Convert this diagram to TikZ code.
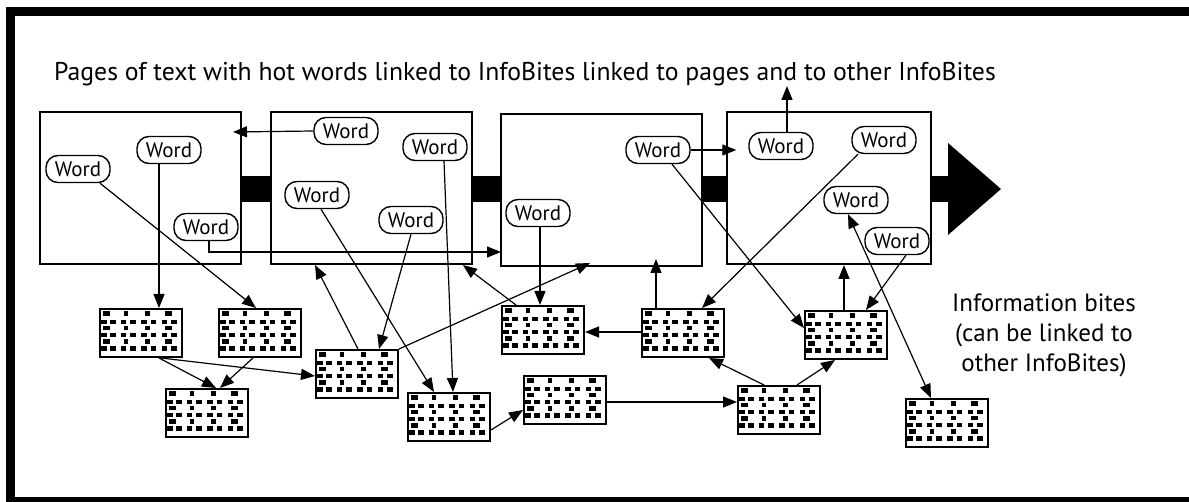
\documentclass[tikz,border=0pt]{standalone}
\usepackage{fontspec}
\setmainfont{PT Sans}
\usetikzlibrary{arrows.meta,calc}
\newcommand\bitepat[1]{%
  \begin{scope}[shift={(#1.north west)}]
    \foreach \y in {3.5,18,31.5}{
      \foreach \a/\b in {4/10.5,25/29,46/50.5,66/72.5}{\fill (\a,\y) rectangle (\b,\y+4.5);}}
    \foreach \y in {12,25,38.5}{
      \foreach \a/\b in {1/7.5,11/17,21.5/27,31/37,41.5/48,52/57,63/68,72/78}{\fill (\a,\y) rectangle (\b,\y+4.5);}}
  \end{scope}}
\begin{document}
\begin{tikzpicture}[x=1pt,y=-1pt,
  pagebox/.style={draw,line width=2pt,minimum width=201pt,minimum height=152pt,inner sep=0pt},
  wordbox/.style={draw,line width=1.4pt,rounded corners=12pt,minimum width=64pt,minimum height=27pt,inner sep=0pt,font=\fontsize{21}{21}\selectfont},
  bitebox/.style={draw,line width=2pt,minimum width=82pt,minimum height=48pt,inner sep=0pt},
  link/.style={line width=1.2pt,-{Triangle[length=14pt,width=11pt]}},
  dlink/.style={line width=1.2pt,{Triangle[length=14pt,width=11pt]}-{Triangle[length=14pt,width=11pt]}}]
\useasboundingbox (0,0) rectangle (1189,502);
% frame
\fill (6,7) rectangle (1189,16);
\fill (6,7) rectangle (15,502);
\fill (6,497) rectangle (1189,502);
% title
\node[font=\fontsize{25.7}{26}\selectfont,anchor=base,inner sep=0pt] (title) at (525,81) {Pages of text with hot words linked to InfoBites linked to pages and to other InfoBites};
% pages
\node[pagebox] (P1) at (140.5,188) {};
\node[pagebox] (P2) at (371.5,188) {};
\node[pagebox] (P3) at (601.5,190) {};
\node[pagebox,minimum width=204pt] (P4) at (829,188) {};
% bars
\coordinate (bartop) at (0,176);
\coordinate (barbot) at (0,202);
\fill (P1.east |- bartop) rectangle (P2.west |- barbot);
\fill (P2.east |- bartop) rectangle (P3.west |- barbot);
\fill (P3.east |- bartop) rectangle (P4.west |- barbot);
\coordinate (tribase) at (948,202);
\fill (P4.east |- bartop) rectangle (tribase);
\coordinate (triA) at (948,143);
\coordinate (triB) at (1001,189);
\coordinate (triC) at (948,235);
\fill (triA) -- (triB) -- (triC) -- cycle;
% words
\node[wordbox] (Wa) at (78,169) {Word};
\node[wordbox] (Wb) at (169,150) {Word};
\node[wordbox] (Wc) at (206,227) {Word};
\node[wordbox] (Wd) at (346,131) {Word};
\node[wordbox] (We) at (435,147) {Word};
\node[wordbox] (Wf) at (317,195) {Word};
\node[wordbox] (Wg) at (411,220) {Word};
\node[wordbox] (Wh) at (538,213) {Word};
\node[wordbox] (Wi) at (658,150) {Word};
\node[wordbox] (Wj) at (781,146) {Word};
\node[wordbox] (Wk) at (884,140) {Word};
\node[wordbox] (Wl) at (856,200) {Word};
\node[wordbox] (Wm) at (897,241) {Word};
% info bites
\node[bitebox] (IBA) at (141,333) {};
\node[bitebox] (IBB) at (260,333) {};
\node[bitebox] (IBC) at (207,413) {};
\node[bitebox] (IBD) at (357,374) {};
\node[bitebox] (IBE) at (543,330) {};
\node[bitebox] (IBF) at (683,333) {};
\node[bitebox] (IBG) at (846,335) {};
\node[bitebox] (IBH) at (779,410) {};
\node[bitebox] (IBI) at (947,423) {};
\node[bitebox] (IBJ) at (449,417) {};
\node[bitebox] (IBK) at (565,400) {};
\foreach \n in {IBA,IBB,IBC,IBD,IBE,IBF,IBG,IBH,IBI,IBJ,IBK}{\bitepat{\n}}
% side text
\node[font=\fontsize{25}{30}\selectfont,align=center,anchor=north,inner sep=0pt] (info) at (1044,294) {Information bites\\(can be linked to\\other InfoBites)};
% connectors
\coordinate (t1) at (233,132);
\draw[link] (Wd.west) -- (t1);
\coordinate (t2) at (501,252);
\draw[link] ($(Wc.south)+(3,0)$) |- (t2);
\draw[link] ($(Wb.south)+(-10,0)$) coordinate (s3) -- (s3 |- IBA.north);
\draw[link] ($(Wa.south)+(22,0)$) -- ($(IBB.north)+(-4,0)$);
\draw[link] ($(IBA.south)+(18,0)$) -- ($(IBC.north)+(9,0)$);
\draw[link] ($(IBA.south)+(20,0)$) -- ($(IBD.west)+(0,2)$);
\draw[link] ($(IBB.south)+(-7,0)$) -- ($(IBC.north)+(13,0)$);
\draw[link] ($(IBD.north)+(1,0)$) -- ($(P2.south)+(-56.5,0)$);
\draw[link] (Wg.south) -- ($(IBD.north)+(22,0)$);
\draw[link] ($(Wf.south)+(4,0)$) -- ($(IBJ.north)+(-15,0)$);
\draw[link] ($(We.south)+(9,0)$) -- ($(IBJ.north)+(4,0)$);
\draw[link] ($(IBE.north west)+(15,0)$) -- ($(P2.south east)+(-10,0)$);
\draw[link] (IBD.north east) -- ($(P3.south)+(-11.5,-4)$);
\draw[link] ($(Wh.south)+(2,0)$) coordinate (s14) -- (s14 |- IBE.north);
\draw[link] ($(IBJ.east)+(0,13)$) -- ($(IBK.west)+(0,10)$);
\draw[link] ($(IBK.east)+(0,2)$) coordinate (s16) -- (s16 -| IBH.west);
\draw[link] ($(IBF.west)+(0,-1)$) coordinate (s17) -- (s17 -| IBE.east);
\draw[link] ($(IBF.north)+(-27,0)$) coordinate (s18) -- ($(s18 |- P3.south)+(0,-8)$);
\draw[link] ($(IBG.north)+(-2,0)$) coordinate (s19) -- (s19 |- P4.south);
\draw[link] ($(IBH.north)+(-15,0)$) -- ($(IBF.south)+(26,0)$);
\draw[link] ($(IBH.north)+(18,0)$) -- ($(IBG.south)+(-11,0)$);
\draw[link] ($(Wi.south)+(14,0)$) -- ($(IBG.west)+(0,-7)$);
\draw[link] ($(Wk.south)+(-26,0)$) -- ($(IBF.north east)+(-23,0)$);
\draw[link] ($(Wm.south)+(9,0)$) -- ($(IBG.north east)+(-22,0)$);
\draw[dlink] ($(Wl.south)+(-8,0)$) -- ($(IBI.north)+(-16,0)$);
\draw[link,shorten >=12pt] (Wi.east) -- (Wi.east -| Wj.west);
\coordinate (t27) at (787,86);
\draw[link] ($(Wj.north)+(6,0)$) -- (t27);
\end{tikzpicture}
\end{document}
